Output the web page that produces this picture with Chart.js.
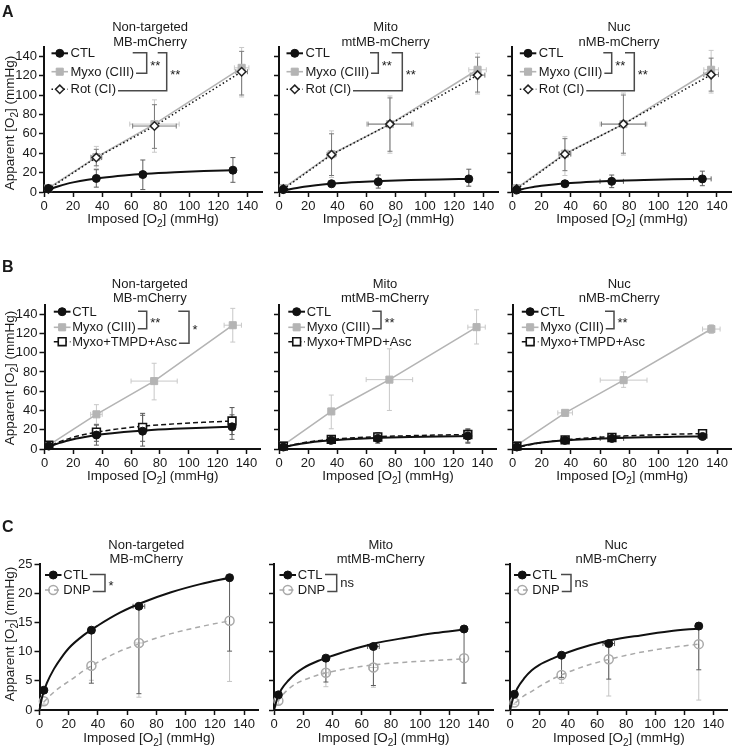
<!DOCTYPE html>
<html><head><meta charset="utf-8">
<script src="https://cdn.jsdelivr.net/npm/chart.js@4/dist/chart.umd.min.js"></script>
<style>
html,body{margin:0;padding:0;background:#fff;}
#wrap{position:relative;width:740px;height:752px;overflow:hidden;background:#fff;}
canvas{position:absolute;}
</style></head><body><div id="wrap"></div>
<script>
// ---------------- DATA ----------------
const X_TICKS = [0, 20, 40, 60, 80, 100, 120, 140];
const Y_TICKS_AB = [0, 20, 40, 60, 80, 100, 120, 140];
const Y_TICKS_C = [0, 5, 10, 15, 20, 25];
const COLUMN_TITLES = [["Non-targeted", "MB-mCherry"], ["Mito", "mtMB-mCherry"], ["Nuc", "nMB-mCherry"]];
const PANEL_LETTERS = ["A", "B", "C"];
const SERIES_A = ["CTL", "Myxo (CIII)", "Rot (CI)"];
const SERIES_B = ["CTL", "Myxo (CIII)", "Myxo+TMPD+Asc"];
const SERIES_C = ["CTL", "DNP"];
const SIG_A = [["**", "**"], ["**", "**"], ["**", "**"]];
const SIG_B = [["**", "*"], ["**"], ["**"]];
const SIG_C = [["*"], ["ns"], ["ns"]];
const X_AXIS_TITLE = ["Imposed [O", "2", "] (mmHg)"];
const Y_AXIS_TITLE = ["Apparent [O", "2", "] (mmHg)"];

// imposed O2 (x) per series
const X_CTL = [3, 36, 68, 130];
const X_MYXO = [3, 36, 76, 136];
const X_MYXO_B1 = [3, 36, 76, 130.5];
const X_C = [3, 35.5, 68, 130];
// x positions at which the fitted curves were read
const FIT_X = [0, 2, 5, 10, 15, 20, 30, 40, 55, 70, 90, 110, 130];

// Row A – Non-targeted
const A1_CTL_Y = [3.5, 14, 18, 22.5], A1_CTL_LO = [2, 5, 2.5, 10], A1_CTL_HI = [5, 23, 33, 35.5], A1_CTL_XE = [0, 0, 0, 0];
const A1_CTL_FIT = [0, 1.4, 3.3, 5.9, 8.1, 9.9, 12.7, 14.8, 17.1, 18.8, 20.4, 21.6, 22.5];
const A1_MYXO_Y = [4, 36, 70, 128], A1_MYXO_LO = [2, 24, 41, 98], A1_MYXO_HI = [6, 47, 95, 149], A1_MYXO_XE = [0, 4, 17, 5];
const A1_ROT_Y = [3, 35.5, 68, 124], A1_ROT_LO = [1.5, 27, 45, 100], A1_ROT_HI = [4.5, 44, 90, 145], A1_ROT_XE = [0, 3.5, 15, 4];
// Row A – Mito
const A2_CTL_Y = [2.5, 8.5, 10.5, 13.5], A2_CTL_LO = [1, 5.5, 4, 6], A2_CTL_HI = [4, 11.5, 17.5, 23.5], A2_CTL_XE = [0, 0, 2, 0];
const A2_CTL_FIT = [0, 0.9, 2.0, 3.7, 5.0, 6.0, 7.7, 9.0, 10.3, 11.3, 12.3, 13.0, 13.5];
const A2_MYXO_Y = [4, 39, 70, 126], A2_MYXO_LO = [2, 15, 40, 101], A2_MYXO_HI = [6, 63, 99, 143], A2_MYXO_XE = [0, 3, 16, 6];
const A2_ROT_Y = [3, 38.5, 70, 120.5], A2_ROT_LO = [1.5, 17, 42, 103], A2_ROT_HI = [4.5, 60, 97, 139], A2_ROT_XE = [0, 3, 15, 5];
// Row A – Nuc
const A3_CTL_Y = [2, 8.5, 11, 13.5], A3_CTL_LO = [1, 6, 4.5, 6.5], A3_CTL_HI = [3, 11, 17.5, 21.5], A3_CTL_XE = [0, 2, 8, 6];
const A3_CTL_FIT = [0, 1.0, 2.2, 4.0, 5.3, 6.4, 8.1, 9.3, 10.6, 11.6, 12.4, 13.1, 13.6];
const A3_MYXO_Y = [4, 39.5, 70, 126], A3_MYXO_LO = [2, 17, 38, 102], A3_MYXO_HI = [6, 57, 102, 146], A3_MYXO_XE = [0, 4, 16, 5];
const A3_ROT_Y = [3, 39, 70, 121], A3_ROT_LO = [1.5, 22, 40, 104], A3_ROT_HI = [4.5, 55, 100, 138], A3_ROT_XE = [0, 4, 15, 5];

// Row B – Non-targeted
const B1_CTL_Y = [3, 14.5, 18.5, 23], B1_CTL_LO = [1.5, 4, 3, 10], B1_CTL_HI = [4.5, 25, 35, 35.5], B1_CTL_XE = [0, 0, 0, 0];
const B1_CTL_FIT = [0, 1.5, 3.4, 6.1, 8.3, 10.2, 13.0, 15.2, 17.6, 19.3, 20.9, 22.1, 23.1];
const B1_MYXO_Y = [4, 36, 70.5, 128.5], B1_MYXO_LO = [2, 26, 51, 111], B1_MYXO_HI = [6, 46, 89, 146], B1_MYXO_XE = [0, 4, 16, 6];
const B1_TMPD_Y = [4, 17.5, 22.5, 29], B1_TMPD_LO = [2, 8, 8, 15], B1_TMPD_HI = [6, 25, 37, 43], B1_TMPD_XE = [0, 0, 0, 0];
const B1_TMPD_FIT = [0, 1.7, 4.0, 7.2, 9.9, 12.2, 15.8, 18.5, 21.6, 23.9, 26.1, 27.7, 29.0];
// Row B – Mito
const B2_CTL_Y = [2, 9, 11, 13.5], B2_CTL_LO = [1, 7, 6, 6], B2_CTL_HI = [3, 11, 16, 21], B2_CTL_XE = [0, 0, 0, 0];
const B2_CTL_FIT = [0, 1.0, 2.3, 4.1, 5.5, 6.6, 8.2, 9.4, 10.7, 11.6, 12.4, 13.0, 13.5];
const B2_MYXO_Y = [4, 39, 72, 126.5], B2_MYXO_LO = [2, 21, 40, 109], B2_MYXO_HI = [6, 56, 104, 144.5], B2_MYXO_XE = [0, 0, 16, 6];
const B2_TMPD_Y = [3, 10, 12.5, 15], B2_TMPD_LO = [1.5, 7, 8, 7], B2_TMPD_HI = [4.5, 13, 17, 20], B2_TMPD_XE = [0, 0, 0, 0];
const B2_TMPD_FIT = [0, 1.1, 2.6, 4.5, 6.1, 7.3, 9.2, 10.5, 11.9, 12.9, 13.8, 14.5, 15.0];
// Row B – Nuc
const B3_CTL_Y = [2, 9, 11, 13], B3_CTL_LO = [1, 7.5, 9, 11], B3_CTL_HI = [3, 10.5, 13, 15], B3_CTL_XE = [0, 3, 8, 3];
const B3_CTL_FIT = [0, 1.1, 2.5, 4.3, 5.6, 6.7, 8.3, 9.4, 10.5, 11.3, 12.1, 12.6, 13.0];
const B3_MYXO_Y = [4, 37.5, 71.5, 124.5], B3_MYXO_LO = [2, 35, 64, 120], B3_MYXO_HI = [6, 40, 80, 129], B3_MYXO_XE = [0, 5, 16, 6];
const B3_TMPD_Y = [3, 9.5, 12, 16], B3_TMPD_LO = [2, 8.5, 10.5, 13.5], B3_TMPD_HI = [4, 10.5, 13.5, 18], B3_TMPD_XE = [0, 0, 0, 0];
const B3_TMPD_FIT = [0, 0.9, 2.1, 3.9, 5.3, 6.6, 8.5, 10.1, 11.8, 13.1, 14.3, 15.3, 16.0];

// Row C (lower error bars only)
const C1_CTL_Y = [3.4, 13.7, 17.8, 22.7], C1_CTL_LO = [3.4, 4.6, 2.8, 10.1], C1_CTL_XE = [0, 2, 4, 0];
const C1_CTL_FIT = [0, 2.4, 4.6, 7.1, 9.0, 10.6, 12.8, 14.5, 16.7, 18.4, 20.2, 21.6, 22.7];
const C1_DNP_Y = [1.5, 7.6, 11.5, 15.3], C1_DNP_LO = [1.0, 5.1, 2.2, 4.9], C1_DNP_XE = [0, 0, 3, 0];
const C1_DNP_FIT = [0, 1.0, 1.9, 3.1, 4.1, 4.9, 6.7, 8.2, 10.1, 11.5, 13.1, 14.3, 15.3];
const C2_CTL_Y = [2.6, 8.9, 10.9, 13.9], C2_CTL_LO = [2.6, 4.8, 4.2, 4.6], C2_CTL_XE = [0, 2, 4, 1];
const C2_CTL_FIT = [0, 1.8, 3.5, 5.1, 6.3, 7.2, 8.4, 9.3, 10.5, 11.5, 12.4, 13.2, 13.8];
const C2_DNP_Y = [1.6, 6.4, 7.3, 8.9], C2_DNP_LO = [1.0, 4.0, 3.9, 4.7], C2_DNP_XE = [0, 2, 3, 0];
const C2_DNP_FIT = [0, 1.1, 2.3, 3.6, 4.5, 5.1, 6.0, 6.6, 7.3, 7.8, 8.2, 8.5, 8.8];
const C3_CTL_Y = [2.7, 9.4, 11.4, 14.4], C3_CTL_LO = [2.7, 5.6, 5.3, 6.9], C3_CTL_XE = [0, 1, 4, 0];
const C3_CTL_FIT = [0, 1.9, 3.7, 5.5, 6.8, 7.7, 8.9, 9.9, 11.1, 12.0, 12.8, 13.5, 14.0];
const C3_DNP_Y = [1.3, 6.0, 8.7, 11.3], C3_DNP_LO = [1.0, 4.6, 2.4, 1.7], C3_DNP_XE = [0, 0, 0, 0];
const C3_DNP_FIT = [0, 0.8, 1.5, 2.5, 3.2, 4.0, 5.4, 6.5, 7.8, 8.8, 9.9, 10.7, 11.3];

// ---------------- LAYOUT / STYLE ----------------
const FONT = '"Liberation Sans", Arial, Helvetica, sans-serif';
const INK = '#1a1a1a';
Chart.defaults.font.family = FONT;
Chart.defaults.font.size = 13;
Chart.defaults.color = INK;

const ROW_GEOM = {
  A: { cy: 0, ch: 232, top: 46.5, bottom: 192, lefts: [44, 279, 512.3], width: 219.3, yMax: 150, yTicks: Y_TICKS_AB,
       titleBase: [31, 45.5], legendY: [53.3, 71.7, 89.3], legLine: [7.5, 24], legText: 26.5, xTitleBase: 222.5, yTitleMid: 123, letterBase: 17, series: SERIES_A, sig: SIG_A },
  B: { cy: 252, ch: 240, top: 304.5, bottom: 449, lefts: [44.5, 279, 512.5], width: 219.3, yMax: 150, yTicks: Y_TICKS_AB,
       titleBase: [288, 302], legendY: [311.7, 327.3, 341.7], legLine: [9.3, 26], legText: 27.7, xTitleBase: 480, yTitleMid: 378, letterBase: 272, series: SERIES_B, sig: SIG_B },
  C: { cy: 512, ch: 240, top: 564.3, bottom: 710, lefts: [39.5, 274, 508.5], width: 219.3, yMax: 25, yTicks: Y_TICKS_C,
       titleBase: [548.5, 562.5], legendY: [575, 590], legLine: [5.5, 22], legText: 23.8, xTitleBase: 741.5, yTitleMid: 634, letterBase: 532, series: SERIES_C, sig: SIG_C }
};
const COL_GEOM = [{ cx: 0, cw: 268 }, { cx: 268, cw: 236 }, { cx: 504, cw: 236 }];

const BRACKETS = {
  A: [
    [{ vx: 146.7, i1: 0, i2: 1, xT: 132.7, xB: 132.7 }, { vx: 166.7, i1: 0, i2: 2, xT: 157.7, xB: 116.7 }],
    [{ vx: 378.3, i1: 0, i2: 1, xT: 370, xB: 367.3 }, { vx: 402.3, i1: 0, i2: 2, xT: 391.7, xB: 350 }],
    [{ vx: 611.7, i1: 0, i2: 1, xT: 603.3, xB: 599.3 }, { vx: 634.3, i1: 0, i2: 2, xT: 625, xB: 583.3 }]
  ],
  B: [
    [{ vx: 146.7, i1: 0, i2: 1, xT: 138, xB: 135.3 }, { vx: 189, i1: 0, i2: 2, xT: 178.3, xB: 173.3 }],
    [{ vx: 381, i1: 0, i2: 1, xT: 372.3, xB: 368.3 }],
    [{ vx: 614, i1: 0, i2: 1, xT: 605, xB: 603.3 }]
  ],
  C: [
    [{ vx: 105, i1: 0, i2: 1, xT: 86, xB: 87.3 }],
    [{ vx: 336.7, i1: 0, i2: 1, xT: 325, xB: 323.3 }],
    [{ vx: 571, i1: 0, i2: 1, xT: 561, xB: 561 }]
  ]
};

const STYLE = {
  ctl: { borderColor: '#111', borderWidth: 2, pointStyle: 'circle', pointRadius: 4, pointBackgroundColor: '#111', pointBorderColor: '#111', pointBorderWidth: 1, errColor: '#5e5e5e', order: 0 },
  myxo: { borderColor: '#b4b4b4', borderWidth: 1.6, pointStyle: 'rect', pointRadius: 5, pointBackgroundColor: '#b4b4b4', pointBorderColor: '#b4b4b4', pointBorderWidth: 1, tension: 0, errColor: '#c8c8c8', order: 2 },
  rot: { borderColor: '#111', borderWidth: 1.5, borderDash: [1.5, 2.5], pointStyle: 'rectRot', pointRadius: 4.2, pointBackgroundColor: '#fff', pointBorderColor: '#222', pointBorderWidth: 1.5, tension: 0, errColor: '#7a7a7a', order: 1 },
  tmpd: { borderColor: '#111', borderWidth: 1.5, borderDash: [5, 3], pointStyle: 'rect', pointRadius: 5.5, pointBackgroundColor: '#fff', pointBorderColor: '#111', pointBorderWidth: 1.6, errColor: '#555', order: 1 },
  dnp: { borderColor: '#a9a9a9', borderWidth: 1.5, borderDash: [5, 4], pointStyle: 'circle', pointRadius: 4.5, pointBackgroundColor: 'rgba(255,255,255,0)', pointBorderColor: '#a9a9a9', pointBorderWidth: 1.5, errColor: '#c4c4c4', order: 1 }
};

const PANELS = [
  { row: 'A', col: 0, series: [
    { kind: 'ctl', x: X_CTL, y: A1_CTL_Y, lo: A1_CTL_LO, hi: A1_CTL_HI, xe: A1_CTL_XE, fit: A1_CTL_FIT },
    { kind: 'myxo', x: X_MYXO, y: A1_MYXO_Y, lo: A1_MYXO_LO, hi: A1_MYXO_HI, xe: A1_MYXO_XE },
    { kind: 'rot', x: X_MYXO, y: A1_ROT_Y, lo: A1_ROT_LO, hi: A1_ROT_HI, xe: A1_ROT_XE }] },
  { row: 'A', col: 1, series: [
    { kind: 'ctl', x: X_CTL, y: A2_CTL_Y, lo: A2_CTL_LO, hi: A2_CTL_HI, xe: A2_CTL_XE, fit: A2_CTL_FIT },
    { kind: 'myxo', x: X_MYXO, y: A2_MYXO_Y, lo: A2_MYXO_LO, hi: A2_MYXO_HI, xe: A2_MYXO_XE },
    { kind: 'rot', x: X_MYXO, y: A2_ROT_Y, lo: A2_ROT_LO, hi: A2_ROT_HI, xe: A2_ROT_XE }] },
  { row: 'A', col: 2, series: [
    { kind: 'ctl', x: X_CTL, y: A3_CTL_Y, lo: A3_CTL_LO, hi: A3_CTL_HI, xe: A3_CTL_XE, fit: A3_CTL_FIT },
    { kind: 'myxo', x: X_MYXO, y: A3_MYXO_Y, lo: A3_MYXO_LO, hi: A3_MYXO_HI, xe: A3_MYXO_XE },
    { kind: 'rot', x: X_MYXO, y: A3_ROT_Y, lo: A3_ROT_LO, hi: A3_ROT_HI, xe: A3_ROT_XE }] },
  { row: 'B', col: 0, series: [
    { kind: 'ctl', x: X_CTL, y: B1_CTL_Y, lo: B1_CTL_LO, hi: B1_CTL_HI, xe: B1_CTL_XE, fit: B1_CTL_FIT },
    { kind: 'myxo', x: X_MYXO_B1, y: B1_MYXO_Y, lo: B1_MYXO_LO, hi: B1_MYXO_HI, xe: B1_MYXO_XE },
    { kind: 'tmpd', x: X_CTL, y: B1_TMPD_Y, lo: B1_TMPD_LO, hi: B1_TMPD_HI, xe: B1_TMPD_XE, fit: B1_TMPD_FIT }] },
  { row: 'B', col: 1, series: [
    { kind: 'ctl', x: X_CTL, y: B2_CTL_Y, lo: B2_CTL_LO, hi: B2_CTL_HI, xe: B2_CTL_XE, fit: B2_CTL_FIT },
    { kind: 'myxo', x: X_MYXO, y: B2_MYXO_Y, lo: B2_MYXO_LO, hi: B2_MYXO_HI, xe: B2_MYXO_XE },
    { kind: 'tmpd', x: X_CTL, y: B2_TMPD_Y, lo: B2_TMPD_LO, hi: B2_TMPD_HI, xe: B2_TMPD_XE, fit: B2_TMPD_FIT }] },
  { row: 'B', col: 2, series: [
    { kind: 'ctl', x: X_CTL, y: B3_CTL_Y, lo: B3_CTL_LO, hi: B3_CTL_HI, xe: B3_CTL_XE, fit: B3_CTL_FIT },
    { kind: 'myxo', x: X_MYXO, y: B3_MYXO_Y, lo: B3_MYXO_LO, hi: B3_MYXO_HI, xe: B3_MYXO_XE },
    { kind: 'tmpd', x: X_CTL, y: B3_TMPD_Y, lo: B3_TMPD_LO, hi: B3_TMPD_HI, xe: B3_TMPD_XE, fit: B3_TMPD_FIT }] },
  { row: 'C', col: 0, series: [
    { kind: 'ctl', x: X_C, y: C1_CTL_Y, lo: C1_CTL_LO, hi: null, xe: C1_CTL_XE, fit: C1_CTL_FIT },
    { kind: 'dnp', x: X_C, y: C1_DNP_Y, lo: C1_DNP_LO, hi: null, xe: C1_DNP_XE, fit: C1_DNP_FIT }] },
  { row: 'C', col: 1, series: [
    { kind: 'ctl', x: X_C, y: C2_CTL_Y, lo: C2_CTL_LO, hi: null, xe: C2_CTL_XE, fit: C2_CTL_FIT },
    { kind: 'dnp', x: X_C, y: C2_DNP_Y, lo: C2_DNP_LO, hi: null, xe: C2_DNP_XE, fit: C2_DNP_FIT }] },
  { row: 'C', col: 2, series: [
    { kind: 'ctl', x: X_C, y: C3_CTL_Y, lo: C3_CTL_LO, hi: null, xe: C3_CTL_XE, fit: C3_CTL_FIT },
    { kind: 'dnp', x: X_C, y: C3_DNP_Y, lo: C3_DNP_LO, hi: null, xe: C3_DNP_XE, fit: C3_DNP_FIT }] }
];

// ---------------- DRAW HELPERS ----------------
function seg(ctx, x1, y1, x2, y2) { ctx.beginPath(); ctx.moveTo(x1, y1); ctx.lineTo(x2, y2); ctx.stroke(); }

function drawErrorBars(chart) {
  const ctx = chart.ctx, xs = chart.scales.x, ys = chart.scales.y;
  const sets = chart.data.datasets.filter(d => !d.isFit).slice().sort((a, b) => b.order - a.order);
  sets.forEach(ds => {
    ctx.save();
    ctx.strokeStyle = ds.errColor; ctx.lineWidth = 1; ctx.setLineDash([]);
    const cap = 2.5;
    ds.data.forEach((p, i) => {
      const px = xs.getPixelForValue(p.x), py = ys.getPixelForValue(p.y);
      const lo = ds.errLo ? ds.errLo[i] : null, hi = ds.errHi ? ds.errHi[i] : null;
      if (lo != null && lo < p.y) { const y2 = ys.getPixelForValue(lo); seg(ctx, px, py, px, y2); seg(ctx, px - cap, y2, px + cap, y2); }
      if (hi != null && hi > p.y) { const y2 = ys.getPixelForValue(hi); seg(ctx, px, py, px, y2); seg(ctx, px - cap, y2, px + cap, y2); }
      const xe = ds.errX ? ds.errX[i] : 0;
      if (xe > 0) {
        const x1 = xs.getPixelForValue(p.x - xe), x2 = xs.getPixelForValue(p.x + xe);
        seg(ctx, x1, py, x2, py); seg(ctx, x1, py - cap, x1, py + cap); seg(ctx, x2, py - cap, x2, py + cap);
      }
    });
    ctx.restore();
  });
}

function drawMarker(ctx, ds, x, y) {
  ctx.save();
  ctx.setLineDash([]);
  ctx.lineWidth = ds.pointBorderWidth; ctx.strokeStyle = ds.pointBorderColor; ctx.fillStyle = ds.pointBackgroundColor;
  const r = ds.pointRadius;
  ctx.beginPath();
  if (ds.pointStyle === 'circle') ctx.arc(x, y, r, 0, Math.PI * 2);
  else if (ds.pointStyle === 'rect') { const s = r * Math.SQRT1_2; ctx.rect(x - s, y - s, 2 * s, 2 * s); }
  else { ctx.moveTo(x, y - r); ctx.lineTo(x + r, y); ctx.lineTo(x, y + r); ctx.lineTo(x - r, y); ctx.closePath(); }
  ctx.fill(); ctx.stroke();
  ctx.restore();
}

function drawRich(ctx, parts, x, y, size) {
  const main = size + 'px ' + FONT, sub = Math.round(size * 0.72) + 'px ' + FONT;
  let total = 0;
  parts.forEach((t, i) => { ctx.font = i === 1 ? sub : main; total += ctx.measureText(t).width; });
  let cx = x - total / 2;
  ctx.textAlign = 'left'; ctx.textBaseline = 'alphabetic';
  parts.forEach((t, i) => { ctx.font = i === 1 ? sub : main; ctx.fillText(t, cx, i === 1 ? y + size * 0.3 : y); cx += ctx.measureText(t).width; });
}

function annotate(chart, p) {
  const ctx = chart.ctx, R = ROW_GEOM[p.row], C = COL_GEOM[p.col];
  const ox = C.cx, oy = R.cy;
  const left = R.lefts[p.col] - ox;
  const xs = chart.scales.x, ca = chart.chartArea;
  ctx.save();
  ctx.fillStyle = INK;
  ctx.font = '13px ' + FONT; ctx.textAlign = 'center'; ctx.textBaseline = 'alphabetic';
  const tx = xs.getPixelForValue(73);
  COLUMN_TITLES[p.col].forEach((t, i) => ctx.fillText(t, tx, R.titleBase[i] - oy));
  const textEnds = [];
  chart.data.datasets.filter(d => !d.isFit).forEach((ds, i) => {
    const y = R.legendY[i] - oy;
    const x1 = left + R.legLine[0], x2 = left + R.legLine[1];
    ctx.save();
    ctx.strokeStyle = ds.borderColor; ctx.lineWidth = ds.borderWidth; ctx.setLineDash(ds.borderDash || []);
    seg(ctx, x1, y, x2, y);
    ctx.restore();
    drawMarker(ctx, ds, (x1 + x2) / 2, y);
    ctx.font = '13px ' + FONT; ctx.textAlign = 'left'; ctx.textBaseline = 'middle'; ctx.fillStyle = INK;
    const lbl = R.series[i];
    ctx.fillText(lbl, left + R.legText, y + 0.5);
    textEnds.push(left + R.legText + ctx.measureText(lbl).width);
  });
  const sig = R.sig[p.col];
  BRACKETS[p.row][p.col].forEach((b, k) => {
    const vx = b.vx - ox;
    const yT = R.legendY[b.i1] - oy - 0.5, yB = R.legendY[b.i2] - oy + 1.5;
    const xT = Math.max(b.xT - ox, textEnds[b.i1] + 2), xB = Math.max(b.xB - ox, textEnds[b.i2] + 2);
    ctx.save();
    ctx.strokeStyle = '#4a4a4a'; ctx.lineWidth = 1.5; ctx.setLineDash([]);
    ctx.beginPath(); ctx.moveTo(xT, yT); ctx.lineTo(vx, yT); ctx.lineTo(vx, yB); ctx.lineTo(xB, yB); ctx.stroke();
    ctx.restore();
    const t = sig[k];
    ctx.font = '13px ' + FONT; ctx.textAlign = 'left'; ctx.textBaseline = 'alphabetic'; ctx.fillStyle = INK;
    const mid = (yT + yB) / 2;
    ctx.fillText(t, vx + 3.5, mid + (t.indexOf('*') >= 0 ? 7 : 4));
  });
  ctx.fillStyle = INK;
  drawRich(ctx, X_AXIS_TITLE, (ca.left + ca.right) / 2, R.xTitleBase - oy, 13.5);
  if (p.col === 0) {
    ctx.save();
    ctx.translate(14, R.yTitleMid - oy);
    ctx.rotate(-Math.PI / 2);
    drawRich(ctx, Y_AXIS_TITLE, 0, 0, 13.5);
    ctx.restore();
    ctx.font = 'bold 16px ' + FONT; ctx.textAlign = 'left'; ctx.textBaseline = 'alphabetic';
    ctx.fillText(PANEL_LETTERS['ABC'.indexOf(p.row)], 2, R.letterBase - oy);
  }
  ctx.restore();
}

// ---------------- BUILD ----------------
const wrap = document.getElementById('wrap');
PANELS.forEach(p => {
  const R = ROW_GEOM[p.row], C = COL_GEOM[p.col];
  const left = R.lefts[p.col], right = left + R.width;
  const canvas = document.createElement('canvas');
  canvas.width = C.cw; canvas.height = R.ch;
  canvas.style.left = C.cx + 'px'; canvas.style.top = R.cy + 'px';
  canvas.style.width = C.cw + 'px'; canvas.style.height = R.ch + 'px';
  wrap.appendChild(canvas);
  const yW = left - C.cx, xH = R.cy + R.ch - R.bottom;
  const datasets = [];
  p.series.forEach(s => {
    const st = STYLE[s.kind];
    datasets.push(Object.assign({
      label: s.kind,
      data: s.x.map((xv, i) => ({ x: xv, y: s.y[i] })),
      errLo: s.lo, errHi: s.hi, errX: s.xe,
      clip: false, fill: false, showLine: !s.fit
    }, st));
    if (s.fit) {
      datasets.push({
        label: s.kind + ' fit', isFit: true,
        data: FIT_X.map((xv, i) => ({ x: xv, y: s.fit[i] })),
        borderColor: st.borderColor, borderWidth: st.borderWidth, borderDash: st.borderDash || [],
        pointRadius: 0, cubicInterpolationMode: 'monotone', fill: false, clip: false,
        order: st.order + 0.5
      });
    }
  });
  const gridOpts = { display: true, drawOnChartArea: false, drawTicks: true, tickLength: 5, tickWidth: 1.5, tickColor: '#111' };
  const borderOpts = { display: true, color: '#111', width: 2 };
  const plugin = {
    id: 'decor',
    beforeDatasetsDraw(chart) { drawErrorBars(chart); },
    afterDraw(chart) { annotate(chart, p); }
  };
  new Chart(canvas, {
    type: 'line',
    data: { datasets },
    options: {
      responsive: false, animation: false, devicePixelRatio: 1, events: [],
      layout: { padding: { top: R.top - R.cy, right: C.cx + C.cw - right, left: 0, bottom: 0 } },
      plugins: { legend: { display: false }, tooltip: { enabled: false }, title: { display: false } },
      scales: {
        x: {
          type: 'linear', min: 0, max: 150,
          afterBuildTicks: s => { s.ticks = X_TICKS.map(v => ({ value: v })); },
          afterFit: s => { s.height = xH; },
          grid: gridOpts, border: borderOpts,
          ticks: { font: { family: FONT, size: 13 }, color: INK, padding: 2, maxRotation: 0, autoSkip: false }
        },
        y: {
          type: 'linear', min: 0, max: R.yMax,
          afterBuildTicks: s => { s.ticks = R.yTicks.map(v => ({ value: v })); },
          afterFit: s => { s.width = yW; },
          grid: gridOpts, border: borderOpts,
          ticks: { font: { family: FONT, size: 13 }, color: INK, padding: 2, autoSkip: false,
                   callback: p.col === 0 ? (v => String(v)) : (() => '') }
        }
      }
    },
    plugins: [plugin]
  });
});
</script></body></html>
